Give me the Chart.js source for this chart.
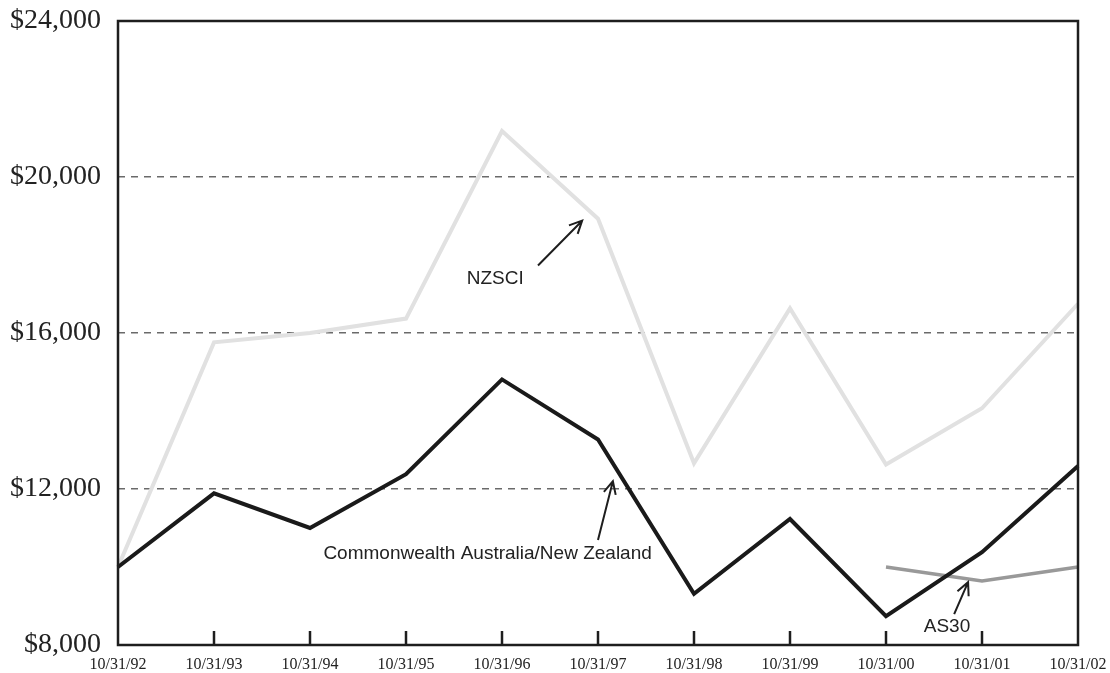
<!DOCTYPE html>
<html>
<head>
<meta charset="utf-8">
<script src="https://cdn.jsdelivr.net/npm/chart.js@4/dist/chart.umd.min.js"></script>
<style>
  html, body { margin: 0; padding: 0; background: #fff; }
  #chart { display: block; }
</style>
</head>
<body>
<canvas id="chart" width="1110" height="673"></canvas>
<script>
// dates of the year-end points
const periods = ['10/31/92', '10/31/93', '10/31/94', '10/31/95', '10/31/96', '10/31/97',
                 '10/31/98', '10/31/99', '10/31/00', '10/31/01', '10/31/02'];

// growth of $10,000
const commonwealth = [10000, 11890, 11000, 12380, 14810, 13270, 9310, 11230, 8740, 10380, 12590];
const nzsci        = [10000, 15760, 16000, 16370, 21180, 18930, 12660, 16630, 12630, 14070, 16750];
const as30         = [null, null, null, null, null, null, null, null, 10000, 9640, 10000];

const yTicks = [8000, 12000, 16000, 20000, 24000];

// callouts, placed in data units (x = category index, y = dollars)
const callouts = [
  { text: 'NZSCI', at: [3.93, 17400], from: [4.375, 17730], to: [4.835, 18880] },
  { text: 'Commonwealth Australia/New Zealand', at: [3.85, 10330], from: [5.0, 10690], to: [5.155, 12200] },
  { text: 'AS30', at: [8.635, 8460], from: [8.71, 8790], to: [8.855, 9610] }
];

const framePlugin = {
  id: 'frame',
  afterDraw(chart) {
    const ctx = chart.ctx;
    const a = chart.chartArea;
    const x = chart.scales.x;
    const y = chart.scales.y;
    ctx.save();
    ctx.strokeStyle = '#1e1e1e';
    ctx.lineWidth = 2.5;
    ctx.strokeRect(a.left, a.top, a.right - a.left, a.bottom - a.top);
    // inward ticks on the date axis
    for (let i = 1; i < periods.length - 1; i++) {
      const px = x.getPixelForValue(i);
      ctx.beginPath();
      ctx.moveTo(px, a.bottom);
      ctx.lineTo(px, a.bottom - 14);
      ctx.stroke();
    }
    // callouts
    ctx.fillStyle = '#222';
    ctx.font = '19px "Liberation Sans", Arial, sans-serif';
    ctx.textAlign = 'center';
    ctx.textBaseline = 'middle';
    ctx.lineWidth = 2;
    ctx.strokeStyle = '#1e1e1e';
    callouts.forEach(c => {
      ctx.fillText(c.text, x.getPixelForValue(c.at[0]), y.getPixelForValue(c.at[1]));
      const x1 = x.getPixelForValue(c.from[0]), y1 = y.getPixelForValue(c.from[1]);
      const x2 = x.getPixelForValue(c.to[0]), y2 = y.getPixelForValue(c.to[1]);
      const ang = Math.atan2(y2 - y1, x2 - x1);
      ctx.beginPath();
      ctx.moveTo(x1, y1);
      ctx.lineTo(x2, y2);
      ctx.moveTo(x2 - 14 * Math.cos(ang - 0.45), y2 - 14 * Math.sin(ang - 0.45));
      ctx.lineTo(x2, y2);
      ctx.lineTo(x2 - 14 * Math.cos(ang + 0.45), y2 - 14 * Math.sin(ang + 0.45));
      ctx.stroke();
    });
    ctx.restore();
  }
};

new Chart(document.getElementById('chart').getContext('2d'), {
  type: 'line',
  data: {
    labels: periods,
    datasets: [
      { label: 'Commonwealth Australia/New Zealand', data: commonwealth, borderColor: '#1a1a1a', borderWidth: 4 },
      { label: 'AS30', data: as30, borderColor: '#999999', borderWidth: 3.5 },
      { label: 'NZSCI', data: nzsci, borderColor: '#e1e1e1', borderWidth: 4 }
    ]
  },
  options: {
    responsive: false,
    animation: false,
    devicePixelRatio: 1,
    layout: { padding: { top: 21, right: 32, left: 0, bottom: 0 } },
    elements: {
      point: { radius: 0 },
      line: { tension: 0, borderJoinStyle: 'miter', borderCapStyle: 'butt' }
    },
    plugins: { legend: { display: false }, tooltip: { enabled: false } },
    scales: {
      x: {
        offset: false,
        grid: { display: false },
        border: { display: false },
        afterFit: s => { s.height = 28; s.paddingLeft = 0; s.paddingRight = 0; },
        ticks: {
          autoSkip: false,
          maxRotation: 0,
          padding: 2,
          color: '#222',
          font: { family: '"Liberation Serif", "Times New Roman", serif', size: 16 }
        }
      },
      y: {
        min: 8000,
        max: 24000,
        afterFit: s => { s.width = 118; s.paddingTop = 0; s.paddingBottom = 0; },
        afterBuildTicks: s => { s.ticks = yTicks.map(v => ({ value: v })); },
        grid: {
          drawTicks: false,
          lineWidth: 1.5,
          color: c => (c.tick && (c.tick.value === 8000 || c.tick.value === 24000)) ? 'rgba(0,0,0,0)' : '#6a6a6a'
        },
        border: { display: false, dash: [7, 6] },
        ticks: {
          padding: 17,
          color: '#222',
          font: { family: '"Liberation Serif", "Times New Roman", serif', size: 28 },
          callback: v => '$' + v.toLocaleString('en-US')
        }
      }
    }
  },
  plugins: [framePlugin]
});
</script>
</body>
</html>
